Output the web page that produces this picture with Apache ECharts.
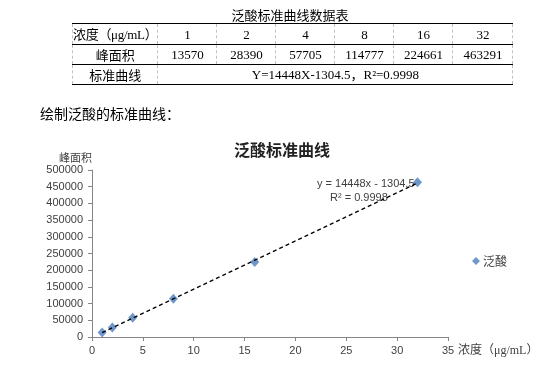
<!DOCTYPE html>
<html>
<head>
<meta charset="utf-8">
<script src="https://cdn.jsdelivr.net/npm/echarts@6/dist/echarts.min.js"></script>
<style>
  html, body { margin:0; padding:0; background:#fff; width:557px; height:374px; overflow:hidden; }
  #chart { position:absolute; left:0; top:0; width:557px; height:374px; }
  #tbltitle { position:absolute; left:72px; width:436px; top:6px; text-align:center;
    font: 13px "Noto Sans CJK SC", sans-serif; color:#000; line-height:18px; }
  #tbl { position:absolute; left:72px; top:23px; border-collapse:collapse; table-layout:fixed;
    font-family:"Liberation Serif","Noto Sans CJK SC",serif; font-size:13px; color:#000; }
  #tbl td { height:19px; padding:0; line-height:19px; text-align:center; white-space:nowrap; overflow:visible;
    border-left:1px dashed #c0c0c0; border-right:1px dashed #c0c0c0;
    border-top:1px solid #000; border-bottom:1px solid #000; }
  #tbl td.cn { font-family:"Noto Sans CJK SC",sans-serif; }
  #intro { position:absolute; left:40px; top:103px; font: 14px "Noto Sans CJK SC", sans-serif; color:#000; line-height:20px; }
</style>
</head>
<body>
<div id="chart"></div>
<div id="tbltitle"></div>
<table id="tbl"><colgroup id="cols"></colgroup><tbody id="tb"></tbody></table>
<div id="intro">绘制泛酸的标准曲线：</div>
<script>
// ---- data ----
const tableTitle = "泛酸标准曲线数据表";
const rowLabels = ["浓度（μg/mL）", "峰面积", "标准曲线"];
const concentrations = [1, 2, 4, 8, 16, 32];
const peakAreas = [13570, 28390, 57705, 114777, 224661, 463291];
const equationText = "Y=14448X-1304.5，R²=0.9998";
const chartTitle = "泛酸标准曲线";
const seriesName = "泛酸";
const yAxisName = "峰面积";
const xAxisName = "浓度（μg/mL）";
const trendEq = "y = 14448x - 1304.5";
const trendR2 = "R² = 0.9998";
// trendline endpoints (x = 1 and x = 32 on y = 14448x - 1304.5)
const trendX = [1, 32];
const trendY = [13143.5, 461031.5];

// ---- table ----
document.getElementById('tbltitle').textContent = tableTitle;
const cols = document.getElementById('cols');
[81,59,59,59,59,59,60].forEach(w => { const c = document.createElement('col'); c.style.width = w + 'px'; cols.appendChild(c); });
const tb = document.getElementById('tb');
function addRow(label, cells, span) {
  const tr = document.createElement('tr');
  const th = document.createElement('td'); th.className = 'cn'; th.textContent = label;
  if (label.indexOf('μg') >= 0) { th.className = ''; th.style.textAlign = 'left'; th.innerHTML = '<span style="font-family:Noto Sans CJK SC">浓度（</span>μg/mL<span style="font-family:Noto Sans CJK SC">）</span>'; th.style.letterSpacing='-0.3px'; }
  tr.appendChild(th);
  cells.forEach(v => { const td = document.createElement('td'); td.textContent = v; if (span) td.colSpan = span; tr.appendChild(td); });
  tb.appendChild(tr);
}
addRow(rowLabels[0], concentrations);
addRow(rowLabels[1], peakAreas);
addRow(rowLabels[2], [equationText], 6);

// ---- chart ----
const chart = echarts.init(document.getElementById('chart'), null, { renderer: 'canvas' });
const txt = '#404040';
const axisCol = '#868686';
chart.setOption({
  animation: false,
  title: {
    text: chartTitle, left: 277, top: 137, textAlign: 'center',
    textStyle: { fontFamily: 'Noto Sans CJK SC', fontWeight: 'bold', fontSize: 16, color: '#222' }
  },
  legend: {
    left: 467, top: 250, icon: 'diamond', itemWidth: 8, itemHeight: 8, itemGap: 4,
    data: [seriesName],
    textStyle: { fontFamily: 'Noto Sans CJK SC', fontSize: 12, color: txt, padding: [0, 0, 0, -2] }
  },
  grid: { left: 92, right: 109, top: 170, bottom: 37 },
  xAxis: {
    type: 'value', min: 0, max: 35, interval: 5,
    name: xAxisName, nameLocation: 'end', nameGap: 4,
    nameTextStyle: { fontFamily: 'Liberation Serif, Noto Sans CJK SC', fontSize: 12, color: txt, verticalAlign: 'top', padding: [8, 0, 0, 0], align: 'left' },
    axisLine: { show: true, lineStyle: { color: axisCol } },
    axisTick: { show: true, length: 4, lineStyle: { color: axisCol } },
    axisLabel: { fontFamily: 'Liberation Sans', fontSize: 11, color: txt, margin: 8 },
    splitLine: { show: false }
  },
  yAxis: {
    type: 'value', min: 0, max: 500000, interval: 50000,
    name: yAxisName, nameLocation: 'end', nameGap: 7,
    nameTextStyle: { fontFamily: 'Noto Sans CJK SC', fontSize: 11, color: txt, align: 'right', verticalAlign: 'bottom' },
    axisLine: { show: true, lineStyle: { color: axisCol } },
    axisTick: { show: true, length: 4, inside: false, lineStyle: { color: axisCol } },
    axisLabel: { fontFamily: 'Liberation Sans', fontSize: 11, color: txt, margin: 9, formatter: v => String(v) },
    splitLine: { show: false }
  },
  series: [
    {
      name: 'trend', type: 'line', data: trendX.map((x, i) => [x, trendY[i]]),
      showSymbol: false, symbol: 'none', silent: true,
      lineStyle: { color: '#000', width: 1.3, type: [4, 3] }, z: 3
    },
    {
      name: seriesName, type: 'scatter', symbol: 'diamond', symbolSize: [9, 10],
      data: concentrations.map((x, i) => [x, peakAreas[i]]),
      itemStyle: { color: '#4a7ebb' }, z: 2
    }
  ],
  graphic: [
    { type: 'text', left: 317, top: 178, style: { text: trendEq, font: '11px "Liberation Sans"', fill: txt } },
    { type: 'text', left: 330, top: 192, style: { text: trendR2, font: '11px "Liberation Sans"', fill: txt } }
  ]
});
</script>
</body>
</html>
